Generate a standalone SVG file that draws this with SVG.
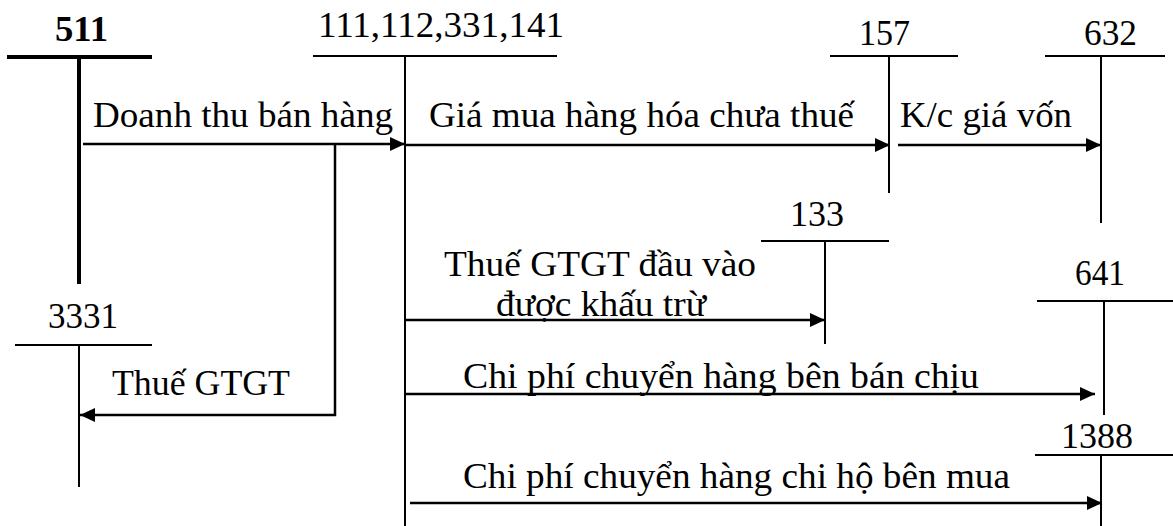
<svg xmlns="http://www.w3.org/2000/svg" width="1173" height="526" viewBox="0 0 1173 526">
  <style>
    text { font-family: "Liberation Serif", "Times New Roman", serif; font-size: 36px; fill: #000; }
    .bold { font-weight: bold; }
    .acc { stroke: #000; stroke-width: 2; fill: none; }
    .acc-main { stroke: #000; stroke-width: 4; fill: none; }
    .flow { stroke: #000; stroke-width: 2.5; fill: none; marker-end: url(#ah); }
  </style>
  <defs>
    <marker id="ah" markerUnits="userSpaceOnUse" markerWidth="16" markerHeight="16" refX="15" refY="7" orient="auto">
      <path d="M0,0 L15,7 L0,14 z" fill="#000"/>
    </marker>
  </defs>

  <!-- T-accounts -->
  <g id="acc-511">
    <text class="bold" x="55" y="41" textLength="53" lengthAdjust="spacingAndGlyphs">511</text>
    <path class="acc-main" d="M7,57 H152 M79,57 V284"/>
  </g>
  <g id="acc-111">
    <text x="318" y="37" textLength="246" lengthAdjust="spacingAndGlyphs">111,112,331,141</text>
    <path class="acc" d="M313,56 H557 M405,56 V526"/>
  </g>
  <g id="acc-157">
    <text x="859" y="45" textLength="51" lengthAdjust="spacingAndGlyphs">157</text>
    <path class="acc" d="M830,56 H958 M889,56 V193"/>
  </g>
  <g id="acc-632">
    <text x="1084" y="45" textLength="53" lengthAdjust="spacingAndGlyphs">632</text>
    <path class="acc" d="M1045,56 H1165 M1101,56 V223"/>
  </g>
  <g id="acc-133">
    <text x="790" y="226" textLength="54" lengthAdjust="spacingAndGlyphs">133</text>
    <path class="acc" d="M761,241 H889 M825,241 V344"/>
  </g>
  <g id="acc-3331">
    <text x="48" y="328" textLength="70" lengthAdjust="spacingAndGlyphs">3331</text>
    <path class="acc" d="M15,345 H152 M79,345 V487"/>
  </g>
  <g id="acc-641">
    <text x="1075" y="285" textLength="50" lengthAdjust="spacingAndGlyphs">641</text>
    <path class="acc" d="M1037,301 H1173 M1104,301 V415"/>
  </g>
  <g id="acc-1388">
    <text x="1061" y="448" textLength="72" lengthAdjust="spacingAndGlyphs">1388</text>
    <path class="acc" d="M1035,455 H1173 M1101,455 V526"/>
  </g>

  <!-- Entries -->
  <g id="connectors">
    <path class="flow" d="M83,144 H405"/>
    <path class="flow" d="M335,144 V415 H80"/>
    <path class="flow" d="M405,145 H890"/>
    <path class="flow" d="M898,145 H1101"/>
    <path class="flow" d="M405,320 H825"/>
    <path class="flow" d="M405,394 H1095"/>
    <path class="flow" d="M410,503 H1102"/>
  </g>

  <!-- Entry labels -->
  <g id="labels">
    <text x="93" y="127" textLength="300" lengthAdjust="spacingAndGlyphs">Doanh thu bán hàng</text>
    <text x="429" y="127" textLength="425" lengthAdjust="spacingAndGlyphs">Giá mua hàng hóa chưa thuế</text>
    <text x="900" y="127" textLength="172" lengthAdjust="spacingAndGlyphs">K/c giá vốn</text>
    <text x="112" y="395" textLength="178" lengthAdjust="spacingAndGlyphs">Thuế GTGT</text>
    <text x="444" y="276" textLength="312" lengthAdjust="spacingAndGlyphs">Thuế GTGT đầu vào</text>
    <text x="496" y="316" textLength="210" lengthAdjust="spacingAndGlyphs">được khấu trừ</text>
    <text x="463" y="388" textLength="516" lengthAdjust="spacingAndGlyphs">Chi phí chuyển hàng bên bán chịu</text>
    <text x="463" y="488" textLength="547" lengthAdjust="spacingAndGlyphs">Chi phí chuyển hàng chi hộ bên mua</text>
  </g>
</svg>
